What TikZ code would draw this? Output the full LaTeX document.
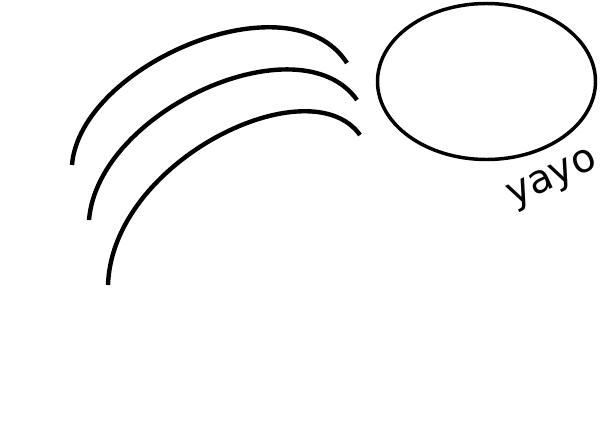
\documentclass[tikz,border=0pt]{standalone}
\usepackage{fontspec}
\newfontfamily\yayofont{DejaVu Sans}
\begin{document}
\begin{tikzpicture}[x=0.75pt,y=0.75pt,yscale=-1,xscale=1]
\useasboundingbox (0,0) rectangle (600,447);

%Shape: Arc [id:arcOuter]
\draw [line width=3.3]  (72,165) .. controls (80,65) and (290,-25) .. (347,63) ;
%Shape: Arc [id:arcMiddle]
\draw [line width=3.3]  (89,220) .. controls (98,110) and (300,20) .. (357,100) ;
%Shape: Arc [id:arcInner]
\draw [line width=3.3]  (108,285) .. controls (112,160) and (310,65) .. (360,135) ;
%Shape: Ellipse [id:elYayo]
\draw [line width=2.6]  (486.5,81.5) ellipse (109 and 78) ;

% Text Node
\draw (553,180) node [rotate=25][inner sep=0.75pt] (yayo) {\yayofont\fontsize{29.5}{34}\selectfont yayo};

\end{tikzpicture}
\end{document}
